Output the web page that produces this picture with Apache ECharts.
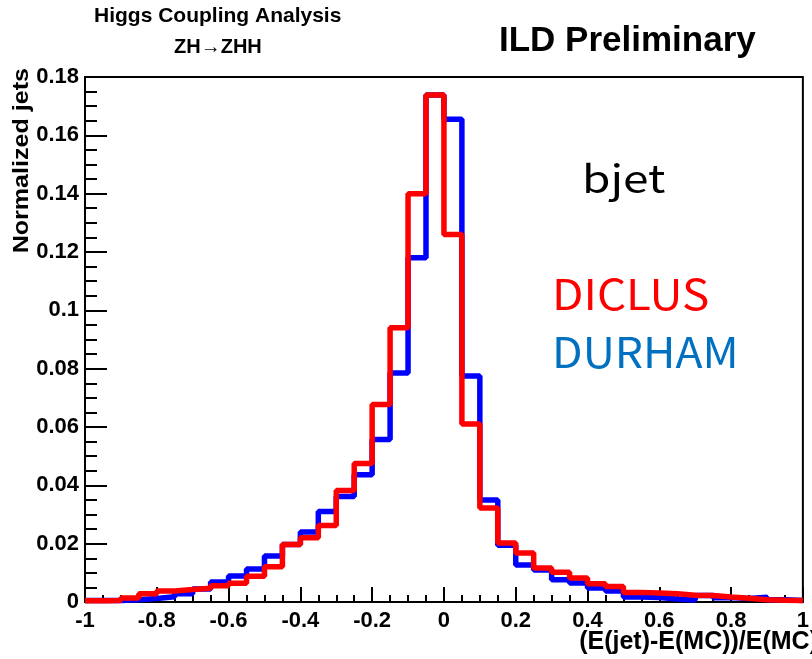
<!DOCTYPE html>
<html>
<head>
<meta charset="utf-8">
<script src="https://cdn.jsdelivr.net/npm/echarts@6.0.0/dist/echarts.min.js"></script>
<style>
  html, body { margin: 0; padding: 0; background: #fff; }
  #chart { width: 812px; height: 659px; }
</style>
</head>
<body>
<div id="chart"></div>
<script>
// histogram binning: 40 bins of 0.05 from -1 to 1
var binLow = -1;
var binWidth = 0.05;

// DURHAM (blue) normalized jets per bin
var durham = [
  0.0005, 0.0005, 0.0008, 0.0012, 0.0018, 0.0028, 0.0045, 0.0069, 0.0089, 0.0113,
  0.0158, 0.0197, 0.0240, 0.0310, 0.0362, 0.0436, 0.0557, 0.0785, 0.1180, 0.1738,
  0.1655, 0.0775, 0.0350, 0.0195, 0.0127, 0.0110, 0.0076, 0.0065, 0.0048, 0.0038,
  0.0017, 0.0015, 0.0010, 0.0007, 0.0022, 0.0015, 0.0012, 0.0016, 0.0008, 0.0005
];

// DICLUS (red) normalized jets per bin
var diclus = [
  0.0004, 0.0005, 0.0014, 0.0028, 0.0038, 0.0043, 0.0047, 0.0056, 0.0064, 0.0088,
  0.0121, 0.0197, 0.0220, 0.0262, 0.0382, 0.0475, 0.0677, 0.0940, 0.1400, 0.1738,
  0.1260, 0.0610, 0.0322, 0.0202, 0.0168, 0.0117, 0.0102, 0.0082, 0.0063, 0.0053,
  0.0033, 0.0031, 0.0028, 0.0023, 0.0022, 0.0017, 0.0013, 0.0008, 0.0006, 0.0005
];

var xTicks = { min: -1, max: 1, step: 0.2 };
var yTicks = { min: 0, max: 0.18, step: 0.02 };

// turn bin contents into step points (left edge of each bin + closing right edge)
function toSteps(vals) {
  var pts = [];
  for (var i = 0; i < vals.length; i++) {
    pts.push([+(binLow + i * binWidth).toFixed(3), vals[i]]);
  }
  pts.push([+(binLow + vals.length * binWidth).toFixed(3), vals[vals.length - 1]]);
  return pts;
}

var rootFont = 'Liberation Sans';
var jpFont = '"Noto Sans CJK JP"';

var chart = echarts.init(document.getElementById('chart'), null, { renderer: 'canvas' });

chart.setOption({
  backgroundColor: '#ffffff',
  animation: false,
  grid: {
    left: 85, right: 2, top: 77, bottom: 57,
    show: true,
    borderColor: '#000', borderWidth: 2 // ROOT frame
  },
  xAxis: {
    type: 'value',
    min: xTicks.min, max: xTicks.max, interval: xTicks.step,
    axisLine: { onZero: false, lineStyle: { color: '#000', width: 2 } },
    axisTick: { inside: true, length: 15, lineStyle: { color: '#000', width: 2 } },
    minorTick: { show: true, splitNumber: 4, length: 7, lineStyle: { color: '#000', width: 2 } },
    splitLine: { show: false },
    axisLabel: {
      margin: 8, color: '#000', fontFamily: rootFont, fontWeight: 'bold', fontSize: 22
    }
  },
  yAxis: {
    type: 'value',
    min: yTicks.min, max: yTicks.max, interval: yTicks.step,
    axisLine: { show: true, onZero: false, lineStyle: { color: '#000', width: 2 } },
    axisTick: { show: true, inside: true, length: 22, lineStyle: { color: '#000', width: 2 } },
    minorTick: { show: true, splitNumber: 4, length: 12, lineStyle: { color: '#000', width: 2 } },
    splitLine: { show: false },
    axisLabel: {
      margin: 6, color: '#000', fontFamily: rootFont, fontWeight: 'bold', fontSize: 22
    }
  },
  series: [
    {
      name: 'DURHAM', type: 'line', step: 'end', showSymbol: false,
      lineStyle: { color: '#0000ff', width: 5.5 },
      data: toSteps(durham), z: 2
    },
    {
      name: 'DICLUS', type: 'line', step: 'end', showSymbol: false,
      lineStyle: { color: '#ff0000', width: 5.5 },
      data: toSteps(diclus), z: 3
    }
  ],
  graphic: [
    { type: 'text', left: 94, top: 6,
      style: { text: 'Higgs Coupling Analysis', fill: '#000', font: 'bold 21px ' + rootFont } },
    { type: 'text', left: 174, top: 37,
      style: { text: 'ZH\u2192ZHH', fill: '#000', font: 'bold 20px ' + rootFont } },
    { type: 'text', left: 499, top: 24,
      style: { text: 'ILD Preliminary', fill: '#000', font: 'bold 35px ' + rootFont } },
    // axis titles
    { type: 'text', x: 22, y: 68, rotation: Math.PI / 2, scaleX: 1.14, z: 10,
      style: { text: 'Normalized jets', fill: '#000', font: 'bold 22px ' + rootFont,
               align: 'right', verticalAlign: 'middle' } },
    { type: 'text', x: 818, y: 642, z: 10,
      style: { text: '(E(jet)-E(MC))/E(MC)', fill: '#000', font: 'bold 25px ' + rootFont,
               align: 'right', verticalAlign: 'middle' } },
    // annotations
    { type: 'text', x: 582, y: 178, scaleX: 1.18,
      style: { text: 'bjet', fill: '#000', font: '39px ' + jpFont, verticalAlign: 'middle' } },
    { type: 'text', x: 552, y: 294, scaleX: 1.09,
      style: { text: 'DICLUS', fill: '#ff0000', font: '42px ' + jpFont, verticalAlign: 'middle' } },
    { type: 'text', x: 552, y: 352, scaleX: 1.06,
      style: { text: 'DURHAM', fill: '#0070c0', font: '42px ' + jpFont, verticalAlign: 'middle' } }
  ]
});
</script>
</body>
</html>
